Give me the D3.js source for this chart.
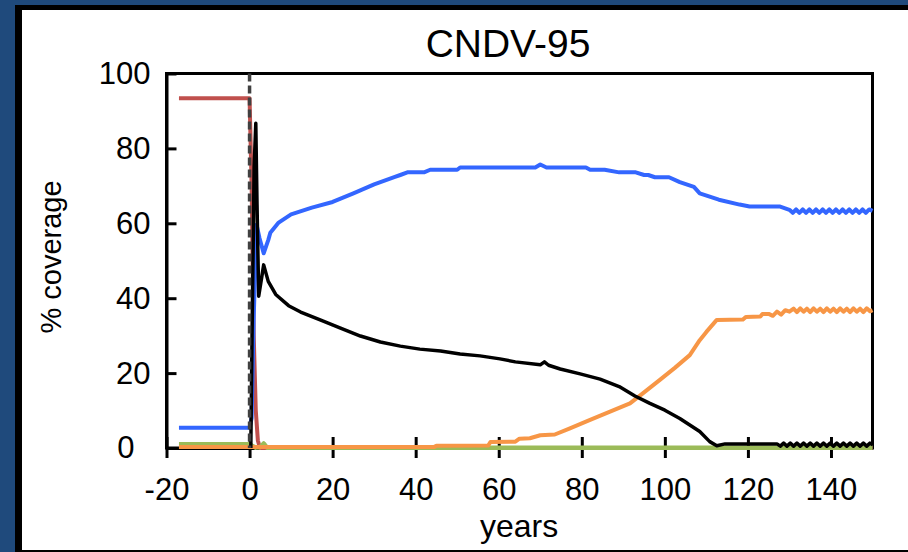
<!DOCTYPE html>
<html>
<head>
<meta charset="utf-8">
<script src="https://cdn.jsdelivr.net/npm/d3@7"></script>
<style>
  html, body { margin: 0; padding: 0; background: #1f4a7c; }
  svg { display: block; }
  text { font-family: "Liberation Sans", Arial, sans-serif; fill: #000; }
</style>
</head>
<body>
<svg id="chart" width="908" height="552"></svg>
<script>
// Axis ticks
const xTickValues = [-20, 0, 20, 40, 60, 80, 100, 120, 140];
const yTickValues = [0, 20, 40, 60, 80, 100];

// Series: [year, % coverage]
const redSeries = [
  [-17, 93.4], [0, 93.4], [0.5, 70], [1.0, 30], [1.5, 10], [2.0, 2], [2.5, 0], [150, 0]
];

const greenSeries = [
  [-17, 1.0], [0, 1.0], [0.6, 0.6], [1.5, 0.1], [2.5, 0.2], [3.4, 1.2], [4.2, 0.1], [150, 0.1]
];

const orangeSeries = [
  [-17, 0.3], [44.5, 0.3], [45, 0.6], [57.5, 0.7], [58, 1.6], [64, 1.7], [65, 2.5], [67.5, 2.6],
  [70, 3.4], [73.5, 3.6], [77, 5.2], [82, 7.5], [86.8, 9.7], [91.6, 11.9], [94, 14], [98.8, 18.2],
  [102.4, 21.4], [106, 24.8], [108.4, 28.8], [110, 31], [112.5, 34.2], [118.8, 34.3], [119.5, 35],
  [123, 35.1], [123.5, 35.8], [125, 35.8], [126, 35.3], [127, 36.4], [128, 35.6], [129, 36.8],
  [130, 36.4], [131, 37.2], [131.8, 36.3], [132.6, 37.3], [133.4, 36.4], [134.2, 37.2], [135, 36.3],
  [135.8, 37.3], [136.6, 36.4], [137.4, 37.2], [138.2, 36.3], [139, 37.3], [139.8, 36.4],
  [140.6, 37.2], [141.4, 36.3], [142.2, 37.3], [143, 36.4], [143.8, 37.2], [144.6, 36.3],
  [145.4, 37.3], [146.2, 36.4], [147, 37.2], [147.8, 36.3], [148.6, 37.3], [149.4, 36.5], [150, 36.8]
];

const blueSeries = [
  [-17, 5.4], [0, 5.4], [0.5, 8], [1.0, 35], [1.7, 59.6], [2.4, 56], [3.4, 52], [4.5, 55.5],
  [5, 57.5], [7, 60.2], [10, 62.4], [15, 64.2], [20, 65.7], [25, 68], [30, 70.4], [35, 72.4],
  [36.3, 72.9], [38, 73.6], [42, 73.6], [43.5, 74.3], [50, 74.3], [50.7, 74.9], [68.8, 74.9],
  [70, 75.7], [71.5, 74.9], [81, 74.9], [82, 74.3], [85.5, 74.3], [89, 73.6], [93, 73.6],
  [95, 72.9], [96, 72.9], [97.6, 72.3], [101, 72.3], [103.6, 71], [107, 69.7], [108.4, 68],
  [113, 66.3], [118, 65], [120.4, 64.5], [127.6, 64.5], [130, 63.6], [130.8, 62.8], [131.6, 63.7],
  [132.4, 62.8], [133.2, 63.7], [134, 62.8], [134.8, 63.7], [135.6, 62.8], [136.4, 63.7],
  [137.2, 62.8], [138, 63.7], [138.8, 62.8], [139.6, 63.7], [140.4, 62.8], [141.2, 63.7],
  [142, 62.8], [142.8, 63.7], [143.6, 62.8], [144.4, 63.7], [145.2, 62.8], [146, 63.7],
  [146.8, 62.8], [147.6, 63.7], [148.4, 62.8], [149.2, 63.7], [150, 63.3]
];

const blackSeries = [
  [0.3, 0], [0.6, 30], [1.1, 75], [1.5, 86.7], [1.8, 65], [2.2, 40.5], [3.4, 48.9], [4.5, 44.5],
  [6.3, 41], [9.4, 38], [12.3, 36.3], [17, 34.2], [21.9, 32], [26.7, 29.9], [31.5, 28.3],
  [36.3, 27.2], [41, 26.4], [46, 25.9], [50.7, 25.1], [55.5, 24.6], [60.3, 23.8], [64, 23.0],
  [70, 22.2], [71, 23], [72, 22.1], [74.8, 21.1], [79.6, 19.8], [84.4, 18.4], [89, 16.4],
  [92.8, 13.9], [96.4, 11.9], [100, 10.1], [103.6, 7.9], [108.4, 4.4], [110.8, 1.7],
  [112.5, 0.6], [114.5, 1.1], [127, 1.1], [127.8, 0.5], [128.6, 1.3], [129.4, 0.5], [130.2, 1.3],
  [131, 0.5], [131.8, 1.3], [132.6, 0.5], [133.4, 1.3], [134.2, 0.5], [135, 1.3], [135.8, 0.5],
  [136.6, 1.3], [137.4, 0.5], [138.2, 1.3], [139, 0.5], [139.8, 1.3], [140.6, 0.5], [141.4, 1.3],
  [142.2, 0.5], [143, 1.3], [143.8, 0.5], [144.6, 1.3], [145.4, 0.5], [146.2, 1.3], [147, 0.5],
  [147.8, 1.3], [148.6, 0.5], [149.4, 1.3], [150, 0.9]
];

const svg = d3.select("#chart");

// Panel: dark backdrop, black shadow edge, white card
svg.append("rect").attr("x", 0).attr("y", 0).attr("width", 908).attr("height", 552).attr("fill", "#1f4a7c");
svg.append("rect").attr("x", 15).attr("y", 5).attr("width", 893).attr("height", 547).attr("fill", "#000");
svg.append("rect").attr("x", 22).attr("y", 10).attr("width", 886).attr("height", 540).attr("fill", "#fff");

const x = d3.scaleLinear().domain([-20, 150]).range([166.5, 872.5]);
const y = d3.scaleLinear().domain([0, 100]).range([448, 73.5]);

// Plot frame
svg.append("rect")
  .attr("x", x(-20)).attr("y", y(100))
  .attr("width", x(150) - x(-20)).attr("height", y(0) - y(100))
  .attr("fill", "none").attr("stroke", "#000").attr("stroke-width", 3);

// X axis with ticks crossing the baseline
const xAxis = svg.append("g")
  .attr("transform", `translate(0,${y(0)})`)
  .call(d3.axisBottom(x).tickValues(xTickValues).tickSizeInner(10).tickSizeOuter(0).tickPadding(20)
    .tickFormat(d => String(d)));
xAxis.select(".domain").attr("stroke", "#000").attr("stroke-width", 3);
xAxis.selectAll(".tick line").attr("y1", -11).attr("y2", 10).attr("stroke", "#000").attr("stroke-width", 3);
xAxis.selectAll(".tick text").style("font-size", "31px").attr("fill", "#000");

// Y axis with inward ticks
const yAxis = svg.append("g")
  .attr("transform", `translate(${x(-20)},0)`)
  .call(d3.axisLeft(y).tickValues(yTickValues).tickSizeInner(-10).tickSizeOuter(0).tickPadding(16));
yAxis.select(".domain").attr("stroke", "#000").attr("stroke-width", 3);
yAxis.selectAll(".tick line").attr("stroke", "#000").attr("stroke-width", 3);
yAxis.selectAll(".tick text").style("font-size", "31px").attr("fill", "#000")
  .attr("x", d => d === 0 ? -32 : -16);

// Series lines
const line = d3.line().x(d => x(d[0])).y(d => y(d[1]));
const series = [
  { data: redSeries, color: "#c0504d", width: 4 },
  { data: greenSeries, color: "#9bbb59", width: 4.5 },
  { data: orangeSeries, color: "#f79646", width: 4 },
  { data: blueSeries, color: "#3366ff", width: 4 },
  { data: blackSeries, color: "#000000", width: 3.5 }
];
svg.append("g").selectAll("path").data(series).join("path")
  .attr("d", d => line(d.data))
  .attr("fill", "none")
  .attr("stroke", d => d.color)
  .attr("stroke-width", d => d.width)
  .attr("stroke-linejoin", "round");

// Dashed marker at year 0
svg.append("line")
  .attr("x1", x(0)).attr("x2", x(0))
  .attr("y1", y(100)).attr("y2", y(0))
  .attr("stroke", "#404040").attr("stroke-width", 3.5)
  .attr("stroke-dasharray", "8,4");

// Titles
svg.append("text").attr("x", 508).attr("y", 57).attr("text-anchor", "middle")
  .style("font-size", "39px").text("CNDV-95");
svg.append("text").attr("x", 519).attr("y", 537).attr("text-anchor", "middle")
  .style("font-size", "32px").text("years");
svg.append("text").attr("transform", "translate(61,257) rotate(-90)").attr("text-anchor", "middle")
  .style("font-size", "29px").text("% coverage");
</script>
</body>
</html>
